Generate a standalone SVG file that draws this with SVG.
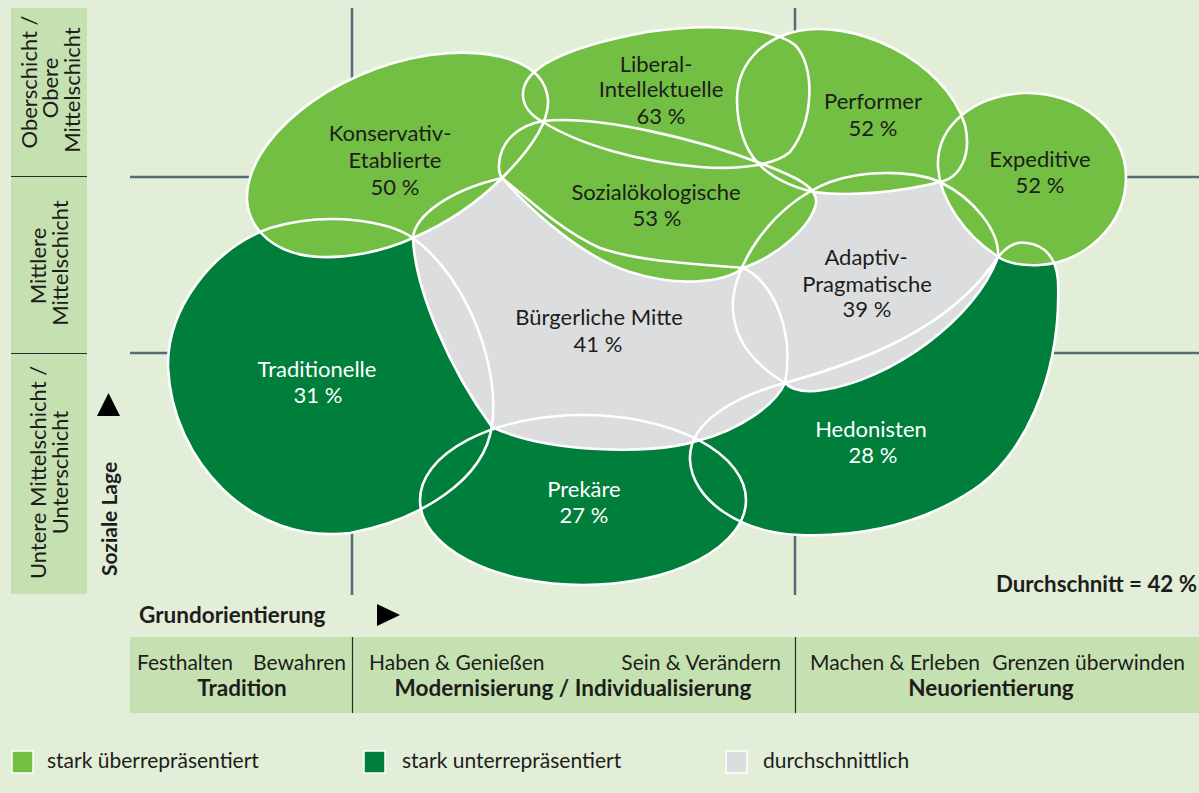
<svg xmlns="http://www.w3.org/2000/svg" width="1199" height="793" viewBox="0 0 1199 793">
<style>
.bg{fill:#E2EED7}
.panel{fill:#C6E1B1}
.ax{stroke:#566B78;stroke-width:2.5;fill:none}
.div{stroke:#2a2a2a;stroke-width:1.2}
.lg{fill:#72BF44}
.dg{fill:#007E3C}
.gy{fill:#DCDDDF}
.ol{fill:none;stroke:#FFFFFF;stroke-width:2.6}
text{font-family:Lato,"Open Sans","Liberation Sans",sans-serif;fill:#1D1D1B}
.n{font-size:22px;text-anchor:middle}
.w{fill:#FFFFFF}
.s{font-size:21px}
.bb{font-size:22.5px;font-weight:bold}
.m{text-anchor:middle}
.e{text-anchor:end}
.b{font-weight:bold}
.tri{fill:#000000}
.key{stroke:#FFFFFF;stroke-width:1.5}
</style>
<defs>
<path id="p-kons" d="M 247,200 C 245,140 330,70 430,55 C 490,47 545,60 548,100 C 549,120 535,145 502,178 C 480,200 450,222 413,238 C 380,253 345,258 320,257 C 275,255 249,230 247,200 Z"/>
<path id="p-lib" d="M 523,95 C 522,70 560,48 647,32 C 700,24 770,25 795,45 C 815,65 815,120 790,152 C 775,165 740,170 700,167 C 640,162 580,145 543,122 C 530,115 523,105 523,95 Z"/>
<path id="p-perf" d="M 737,100 C 737,65 760,42 790,33 C 850,15 945,60 965,125 C 972,155 960,178 940,182 C 900,192 850,197 814,192 C 790,187 768,175 758,163 C 745,150 737,125 737,100 Z"/>
<path id="p-exp" d="M 938,167 C 936,125 975,95 1025,93 C 1080,92 1126,130 1126,177 C 1126,225 1085,262 1040,265 C 1020,266 1005,262 997,256 C 965,235 940,200 938,167 Z"/>
<path id="p-soz" d="M 499,165 C 500,140 520,125 543,121 C 600,115 700,140 760,163 C 790,175 818,185 816,203 C 812,225 780,255 743,268 C 725,282 680,288 630,272 C 585,258 535,215 502,178 C 498,172 499,168 499,165 Z"/>
<path id="p-adap" d="M 733,310 C 730,270 770,205 830,182 C 870,168 920,172 942,183 C 972,198 1000,230 998,257 C 975,320 890,380 823,390 C 805,393 792,390 785,383 C 760,368 735,345 733,310 Z"/>
<path id="p-burg" d="M 413,238 C 415,215 450,190 502,178 C 530,200 560,230 600,248 C 640,262 700,264 743,268 C 772,280 795,330 785,383 C 775,405 740,430 697,441 C 650,456 545,452 492,427 C 450,370 415,290 413,238 Z"/>
<path id="p-trad" d="M 168,367 C 167,310 210,250 270,228 C 330,210 390,222 413,238 C 470,280 500,370 492,425 C 485,480 420,520 350,533 C 250,545 172,460 168,367 Z"/>
<ellipse id="p-prek" cx="583" cy="500" rx="163" ry="85"/>
<path id="p-hed" d="M 690,460 C 688,420 740,395 785,383 C 860,362 950,330 998,257 C 1008,245 1018,241 1027,243 C 1045,245 1056,258 1058,280 C 1062,380 1020,460 973,490 C 920,525 860,537 800,535 C 740,533 692,500 690,460 Z"/>
</defs>

<rect class="bg" x="0" y="0" width="1199" height="793"/>

<g id="left-axis">
<rect class="panel" x="11" y="8" width="76" height="586"/>
<line class="div" x1="11" y1="176.5" x2="87" y2="176.5"/>
<line class="div" x1="11" y1="353.5" x2="87" y2="353.5"/>
<text class="n" transform="translate(36.5,82) rotate(-90)">Oberschicht /</text>
<text class="n" transform="translate(58,88) rotate(-90)">Obere</text>
<text class="n" transform="translate(80,90) rotate(-90)">Mittelschicht</text>
<text class="n" transform="translate(46,266) rotate(-90)">Mittlere</text>
<text class="n" transform="translate(68,263) rotate(-90)">Mittelschicht</text>
<text class="n" transform="translate(46,472.5) rotate(-90)">Untere Mittelschicht /</text>
<text class="n" transform="translate(68,472.5) rotate(-90)">Unterschicht</text>
<polygon class="tri" points="97,416 120,416 108.5,393"/>
<text class="s m b" transform="translate(117,519) rotate(-90)">Soziale Lage</text>
</g>

<g id="grid">
<line class="ax" x1="352" y1="8" x2="352" y2="595"/>
<line class="ax" x1="795" y1="8" x2="795" y2="595"/>
<line class="ax" x1="130" y1="177" x2="1199" y2="177"/>
<line class="ax" x1="130" y1="353" x2="1199" y2="353"/>
</g>

<g id="node-traditionelle"><use href="#p-trad" class="dg"/>
<text class="n w" x="317" y="377">Traditionelle</text><text class="n w" x="318" y="403">31 %</text></g>
<g id="node-prekaere"><use href="#p-prek" class="dg"/>
<text class="n w" x="584" y="497">Prekäre</text><text class="n w" x="584" y="523">27 %</text></g>
<g id="node-hedonisten"><use href="#p-hed" class="dg"/>
<text class="n w" x="871" y="437">Hedonisten</text><text class="n w" x="873" y="463">28 %</text></g>
<g id="node-buergerliche-mitte"><use href="#p-burg" class="gy"/>
<text class="n" x="599" y="325">Bürgerliche Mitte</text><text class="n" x="598" y="352">41 %</text></g>
<g id="node-adaptiv-pragmatische"><use href="#p-adap" class="gy"/>
<text class="n" x="866" y="265">Adaptiv-</text><text class="n" x="867" y="292">Pragmatische</text><text class="n" x="867" y="317">39 %</text></g>
<g id="node-konservativ-etablierte"><use href="#p-kons" class="lg"/>
<text class="n" x="390" y="141">Konservativ-</text><text class="n" x="395" y="168">Etablierte</text><text class="n" x="395" y="195">50 %</text></g>
<g id="node-liberal-intellektuelle"><use href="#p-lib" class="lg"/>
<text class="n" x="656" y="72">Liberal-</text><text class="n" x="661" y="97">Intellektuelle</text><text class="n" x="661" y="124">63 %</text></g>
<g id="node-sozialoekologische"><use href="#p-soz" class="lg"/>
<text class="n" x="656" y="200">Sozialökologische</text><text class="n" x="657" y="226">53 %</text></g>
<g id="node-performer"><use href="#p-perf" class="lg"/>
<text class="n" x="873" y="109">Performer</text><text class="n" x="873" y="136">52 %</text></g>
<g id="node-expeditive"><use href="#p-exp" class="lg"/>
<text class="n" x="1040" y="167">Expeditive</text><text class="n" x="1040" y="193">52 %</text></g>

<g id="outlines">
<use href="#p-trad" class="ol"/>
<use href="#p-prek" class="ol"/>
<use href="#p-hed" class="ol"/>
<use href="#p-burg" class="ol"/>
<use href="#p-adap" class="ol"/>
<use href="#p-kons" class="ol"/>
<use href="#p-lib" class="ol"/>
<use href="#p-soz" class="ol"/>
<use href="#p-perf" class="ol"/>
<use href="#p-exp" class="ol"/>
</g>

<text class="bb e" x="1197" y="592" style="font-size:22.3px">Durchschnitt = 42 %</text>

<g id="bottom-axis">
<text class="bb" x="139" y="623">Grundorientierung</text>
<polygon class="tri" points="377,604 400,615 377,626"/>
<rect class="panel" x="130" y="637" width="1069" height="76"/>
<line class="div" x1="352.5" y1="637" x2="352.5" y2="713"/>
<line class="div" x1="795.5" y1="637" x2="795.5" y2="713"/>
<text class="s" x="137" y="670">Festhalten</text>
<text class="s e" x="346" y="670">Bewahren</text>
<text class="s" x="369" y="670">Haben &amp; Genießen</text>
<text class="s e" x="781" y="670">Sein &amp; Verändern</text>
<text class="s" x="810" y="670">Machen &amp; Erleben</text>
<text class="s e" x="1185" y="670">Grenzen überwinden</text>
<text class="bb m" x="242" y="696">Tradition</text>
<text class="bb m" x="573" y="696">Modernisierung / Individualisierung</text>
<text class="bb m" x="991" y="696">Neuorientierung</text>
</g>

<g id="legend">
<rect class="lg key" x="12" y="751" width="21" height="22"/>
<text class="s" x="47" y="768">stark überrepräsentiert</text>
<rect class="dg key" x="364" y="751" width="21" height="22"/>
<text class="s" x="402" y="768">stark unterrepräsentiert</text>
<rect class="gy key" x="726" y="751" width="21" height="22"/>
<text class="s" x="763" y="768">durchschnittlich</text>
</g>
</svg>
